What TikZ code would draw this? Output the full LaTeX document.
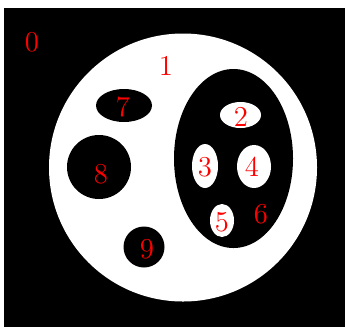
\documentclass[tikz,border=0pt]{standalone}
\usepackage{tikz}

\begin{document}
\begin{tikzpicture}[x=0.5pt, y=-0.5pt, lbl/.style={text=red, font=\Large}]

\useasboundingbox (0,0) rectangle (346,327);
\fill[black] (4,8) rectangle (345,327);
\fill[white] (183,167.5) circle [radius=134];
\fill[black] (233.5,158.5) ellipse [x radius=59.5, y radius=89.5];
\fill[white] (240.5,115) ellipse [x radius=20.5, y radius=13];
\fill[white] (205,166) ellipse [x radius=13, y radius=22];
\fill[white] (254,166.5) ellipse [x radius=17, y radius=21.5];
\fill[white] (222,220.5) ellipse [x radius=12, y radius=16.5];
\fill[black] (124,105.5) ellipse [x radius=28, y radius=16.5];
\fill[black] (99,167) circle [radius=32];
\fill[black] (144,247) circle [radius=20.5];
\node[lbl] (r0) at (32,42) {0};
\node[lbl] (r1) at (166,66) {1};
\node[lbl] (r2) at (241,117) {2};
\node[lbl] (r3) at (205,167) {3};
\node[lbl] (r4) at (252,167) {4};
\node[lbl] (r5) at (222,222) {5};
\node[lbl] (r6) at (261,214) {6};
\node[lbl] (r7) at (123,107) {7};
\node[lbl] (r8) at (101,174) {8};
\node[lbl] (r9) at (147,249) {9};

\end{tikzpicture}
\end{document}
